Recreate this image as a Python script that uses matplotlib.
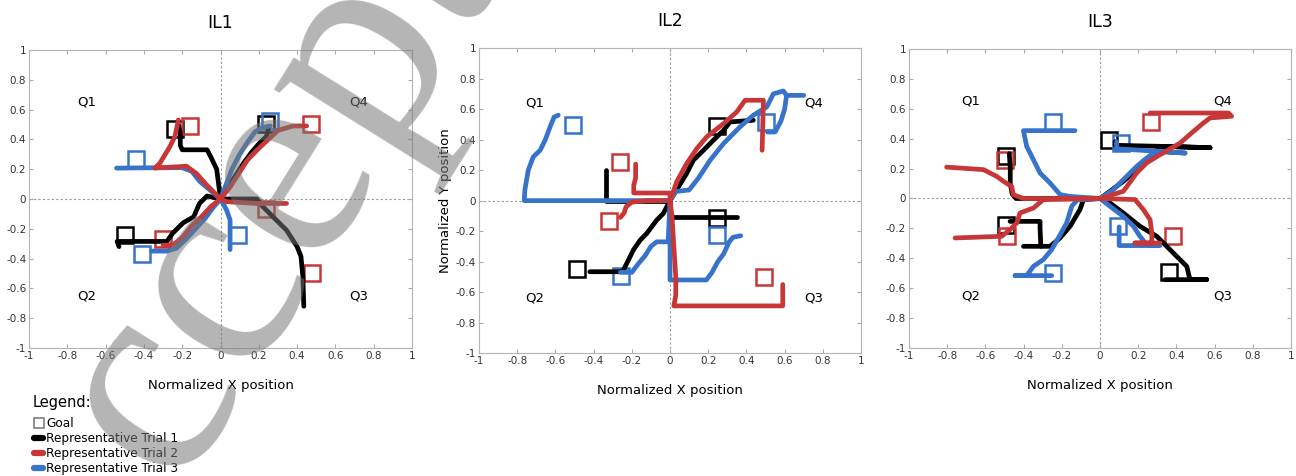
import numpy as np
import matplotlib.pyplot as plt
from matplotlib.lines import Line2D

BLACK = '#000000'
RED = '#c83737'
BLUE = '#3673c9'

titles = ['IL1', 'IL2', 'IL3']
ticks = np.round(np.arange(-1, 1.01, 0.2), 1) + 0.0  # +0.0 turns -0 into 0
tick_labels = ['%g' % t for t in ticks]

# ---- IL1 ----
il1_black_paths = [
    [(0, 0), (-0.01, 0.1), (-0.02, 0.2), (-0.05, 0.28), (-0.07, 0.33), (-0.14, 0.33),
     (-0.2, 0.33), (-0.21, 0.36), (-0.21, 0.44), (-0.22, 0.5)],
    [(0, 0), (0.04, 0.08), (0.08, 0.16), (0.12, 0.24), (0.16, 0.31), (0.2, 0.37),
     (0.24, 0.42), (0.25, 0.47)],
    [(0, 0), (0.1, 0.0), (0.19, 0.0), (0.22, -0.05), (0.29, -0.14), (0.345, -0.21),
     (0.4, -0.32), (0.42, -0.385), (0.43, -0.52), (0.435, -0.72)],
    [(0, 0), (-0.07, 0.02), (-0.11, -0.03), (-0.14, -0.12), (-0.195, -0.16), (-0.25, -0.23),
     (-0.28, -0.285), (-0.54, -0.285), (-0.53, -0.32)],
]
il1_black_goals = [(-0.24, 0.47), (0.24, 0.50), (-0.50, -0.24)]
il1_red_paths = [
    [(0, 0), (-0.073, 0.095), (-0.125, 0.17), (-0.178, 0.22), (-0.343, 0.207), (-0.317, 0.24),
     (-0.265, 0.35), (-0.238, 0.42), (-0.22, 0.53)],
    [(0, 0), (0.05, 0.08), (0.1, 0.18), (0.14, 0.26), (0.2, 0.34), (0.25, 0.4), (0.3, 0.46),
     (0.38, 0.49), (0.45, 0.49)],
    [(0, 0), (0.03, -0.018), (0.19, -0.03), (0.345, -0.03)],
    [(0, 0), (-0.05, -0.05), (-0.1, -0.12), (-0.15, -0.18), (-0.2, -0.26), (-0.25, -0.31),
     (-0.3, -0.31)],
]
il1_red_goals = [(-0.16, 0.49), (0.475, 0.50), (-0.30, -0.27), (0.24, -0.07), (0.48, -0.50)]
il1_blue_paths = [
    [(0, 0), (-0.108, 0.117), (-0.15, 0.185), (-0.2, 0.21), (-0.33, 0.21), (-0.543, 0.207)],
    [(0, 0), (0.03, 0.1), (0.06, 0.2), (0.1, 0.3), (0.14, 0.38), (0.18, 0.45), (0.22, 0.48),
     (0.26, 0.49)],
    [(0, 0), (0.03, -0.07), (0.05, -0.14), (0.05, -0.34)],
    [(0, 0), (-0.04, -0.06), (-0.08, -0.13), (-0.13, -0.2), (-0.18, -0.27), (-0.23, -0.33),
     (-0.28, -0.35), (-0.36, -0.35)],
]
il1_blue_goals = [(-0.44, 0.27), (0.26, 0.52), (-0.41, -0.37), (0.09, -0.245)]

# ---- IL2 ----
il2_black_paths = [
    [(0, 0), (-0.335, 0), (-0.335, 0.2)],
    [(0, 0), (-0.035, -0.084), (-0.07, -0.128), (-0.122, -0.215), (-0.157, -0.26),
     (-0.192, -0.324), (-0.218, -0.39), (-0.244, -0.455), (-0.26, -0.466), (-0.42, -0.466)],
    [(0, 0), (0, -0.11), (0.35, -0.11)],
    [(0, 0), (0.044, 0.09), (0.087, 0.178), (0.122, 0.265), (0.175, 0.33), (0.227, 0.396),
     (0.28, 0.46), (0.314, 0.516), (0.436, 0.527)],
]
il2_black_goals = [(-0.487, -0.446), (0.244, 0.49), (0.244, -0.117)]
il2_red_paths = [
    [(0, 0), (0, 0.05), (-0.1, 0.05), (-0.19, 0.05), (-0.19, 0.1), (-0.18, 0.15), (-0.18, 0.24)],
    [(0, 0), (-0.12, 0), (-0.2, -0.01), (-0.23, -0.04), (-0.24, -0.08), (-0.26, -0.11)],
    [(0, 0), (0.01, -0.1), (0.02, -0.3), (0.03, -0.5), (0.03, -0.62), (0.02, -0.69),
     (0.3, -0.69), (0.59, -0.69), (0.59, -0.55)],
    [(0, 0), (0.035, 0.124), (0.087, 0.243), (0.14, 0.341), (0.192, 0.418), (0.28, 0.505),
     (0.349, 0.581), (0.393, 0.658), (0.489, 0.658), (0.482, 0.33)],
]
il2_red_goals = [(-0.264, 0.25), (-0.318, -0.134), (0.494, -0.503)]
il2_blue_paths = [
    [(0, 0), (-0.763, 0), (-0.76, 0.07), (-0.742, 0.2), (-0.716, 0.287), (-0.68, 0.33),
     (-0.654, 0.396), (-0.628, 0.483), (-0.607, 0.548), (-0.585, 0.56)],
    [(0, 0), (-0.01, -0.27), (-0.07, -0.27), (-0.1, -0.3), (-0.13, -0.36), (-0.17, -0.42),
     (-0.2, -0.47), (-0.26, -0.47)],
    [(0, 0), (0, -0.52), (0.19, -0.52), (0.22, -0.47), (0.25, -0.4), (0.28, -0.35),
     (0.31, -0.27), (0.33, -0.24), (0.37, -0.23)],
    [(0, 0), (0.03, 0.06), (0.1, 0.07), (0.15, 0.15), (0.21, 0.265), (0.28, 0.374),
     (0.366, 0.483), (0.436, 0.56), (0.506, 0.614), (0.541, 0.70), (0.593, 0.719),
     (0.61, 0.69), (0.7, 0.69)],
    [(0.61, 0.69), (0.6, 0.6), (0.58, 0.52), (0.55, 0.45), (0.51, 0.45)],
]
il2_blue_goals = [(-0.51, 0.498), (-0.255, -0.494), (0.5, 0.516), (0.244, -0.228)]

# ---- IL3 ----
il3_black_paths = [
    [(0, 0), (-0.44, 0), (-0.46, 0.03), (-0.47, 0.1), (-0.47, 0.2), (-0.475, 0.3)],
    [(0, 0), (-0.087, -0.008), (-0.105, -0.074), (-0.157, -0.186), (-0.209, -0.264),
     (-0.262, -0.32), (-0.401, -0.32)],
    [(-0.31, -0.32), (-0.314, -0.2), (-0.314, -0.153), (-0.471, -0.153)],
    [(0, 0), (0.052, 0.048), (0.122, 0.115), (0.192, 0.193), (0.244, 0.26), (0.297, 0.316),
     (0.314, 0.349), (0.576, 0.34), (0.314, 0.349), (0.079, 0.356), (0.079, 0.38)],
    [(0, 0), (0.052, -0.03), (0.122, -0.097), (0.209, -0.186), (0.297, -0.253), (0.349, -0.32),
     (0.401, -0.387), (0.454, -0.454), (0.471, -0.543), (0.558, -0.543), (0.34, -0.543)],
]
il3_black_goals = [(-0.492, 0.282), (0.049, 0.389), (-0.492, -0.177), (0.363, -0.494)]
il3_red_paths = [
    [(0, 0), (-0.401, 0), (-0.454, 0.026), (-0.462, 0.08), (-0.506, 0.115), (-0.541, 0.148),
     (-0.61, 0.193), (-0.803, 0.21)],
    [(0, 0), (-0.297, -0.008), (-0.349, -0.064), (-0.419, -0.097), (-0.436, -0.164),
     (-0.471, -0.208), (-0.515, -0.253), (-0.759, -0.264)],
    [(0, 0), (0.122, 0.048), (0.192, 0.171), (0.244, 0.238), (0.314, 0.293), (0.419, 0.371),
     (0.489, 0.449), (0.541, 0.505), (0.576, 0.539), (0.689, 0.55), (0.672, 0.572),
     (0.262, 0.572)],
    [(0, 0), (0.183, -0.007), (0.227, -0.075), (0.262, -0.142), (0.271, -0.231),
     (0.271, -0.298), (0.183, -0.298), (0.314, -0.298)],
]
il3_red_goals = [(-0.497, 0.26), (0.265, 0.51), (-0.489, -0.249), (0.384, -0.249)]
il3_blue_paths = [
    [(0, 0), (-0.157, 0.014), (-0.209, 0.026), (-0.262, 0.104), (-0.314, 0.17), (-0.349, 0.26),
     (-0.384, 0.349), (-0.401, 0.454), (-0.131, 0.454)],
    [(0, 0), (-0.12, -0.01), (-0.148, -0.052), (-0.175, -0.164), (-0.209, -0.242),
     (-0.253, -0.342), (-0.297, -0.409), (-0.349, -0.454), (-0.384, -0.516), (-0.445, -0.516),
     (-0.253, -0.516)],
    [(0, 0), (0.07, 0.059), (0.122, 0.126), (0.192, 0.215), (0.244, 0.271), (0.297, 0.316),
     (0.445, 0.304), (0.297, 0.316), (0.087, 0.333), (0.087, 0.38)],
    [(0, 0), (0.052, -0.052), (0.122, -0.12), (0.175, -0.186), (0.209, -0.253),
     (0.244, -0.309), (0.314, -0.315), (0.1, -0.315), (0.1, -0.19)],
]
il3_blue_goals = [(-0.244, 0.51), (0.108, 0.371), (-0.244, -0.498), (0.096, -0.186)]

panels = [
    [(BLACK, il1_black_paths, il1_black_goals), (BLUE, il1_blue_paths, il1_blue_goals),
     (RED, il1_red_paths, il1_red_goals)],
    [(BLACK, il2_black_paths, il2_black_goals), (BLUE, il2_blue_paths, il2_blue_goals),
     (RED, il2_red_paths, il2_red_goals)],
    [(BLACK, il3_black_paths, il3_black_goals), (BLUE, il3_blue_paths, il3_blue_goals),
     (RED, il3_red_paths, il3_red_goals)],
]

# where the quadrant names sit in each panel (left x, right x, |y|)
q_spots = [(-0.70, 0.72, 0.65), (-0.71, 0.75, 0.64), (-0.675, 0.64, 0.65)]

fig = plt.figure(figsize=(12.96, 4.76), dpi=100)
boxes = [(0.0224, 0.269, 0.2955, 0.626),
         (0.3696, 0.258, 0.2948, 0.641),
         (0.7014, 0.269, 0.2948, 0.628)]

for i, box in enumerate(boxes):
    ax = fig.add_axes(box)
    ax.set_xlim(-1, 1)
    ax.set_ylim(-1, 1)
    ax.axhline(0, color='#999999', lw=0.8, ls=(0, (2, 2)), zorder=1)
    ax.axvline(0, color='#999999', lw=0.8, ls=(0, (2, 2)), zorder=1)

    for color, paths, goals in panels[i]:
        gx = [g[0] for g in goals]
        gy = [g[1] for g in goals]
        ax.plot(gx, gy, ls='none', marker='s', ms=12, mfc='none', mec=color, mew=1.8, zorder=2)
        for p in paths:
            px = [pt[0] for pt in p]
            py = [pt[1] for pt in p]
            ax.plot(px, py, color=color, lw=3.4, solid_capstyle='round',
                    solid_joinstyle='round', zorder=3)

    xl, xr, qy = q_spots[i]
    ax.text(xl, qy, 'Q1', ha='center', va='center', fontsize=9.5)
    ax.text(xr, qy, 'Q4', ha='center', va='center', fontsize=9.5)
    ax.text(xl, -qy, 'Q2', ha='center', va='center', fontsize=9.5)
    ax.text(xr, -qy, 'Q3', ha='center', va='center', fontsize=9.5)

    ax.set_xticks(ticks)
    ax.set_xticklabels(tick_labels)
    ax.set_yticks(ticks)
    ax.set_yticklabels(tick_labels)
    ax.tick_params(direction='in', length=3, color='#aaaaaa', labelsize=7.5,
                   labelcolor='#333333', top=True, right=True, pad=2)
    for s in ax.spines.values():
        s.set_color('#b5b5b5')
    ax.set_title(titles[i], fontsize=12.5, pad=16)
    ax.set_xlabel('Normalized X position', fontsize=9.5, labelpad=13)
    if i == 1:
        ax.set_ylabel('Normalized Y position', fontsize=9.5, labelpad=3)

handles = [
    Line2D([], [], ls='none', marker='s', ms=7, mfc='none', mec='#888888', mew=1.3),
    Line2D([], [], color=BLACK, lw=4.5, solid_capstyle='round'),
    Line2D([], [], color=RED, lw=4.5, solid_capstyle='round'),
    Line2D([], [], color=BLUE, lw=4.5, solid_capstyle='round'),
]
labels = ['Goal', 'Representative Trial 1', 'Representative Trial 2', 'Representative Trial 3']
fig.text(0.0255, 0.1534, 'Legend:', fontsize=10.5, va='center', ha='left')
fig.legend(handles, labels, loc='upper left', bbox_to_anchor=(0.0265, 0.123),
           frameon=False, fontsize=8.7, handlelength=0.7, handletextpad=0.3,
           labelspacing=0.15, borderpad=0, borderaxespad=0)

# journal "Accepted" watermark
fig.text(0.0514, -0.4085, 'Accepted', rotation=58, rotation_mode='anchor', ha='left',
         va='baseline', fontsize=210, family='Liberation Serif', color='#777777',
         alpha=0.55, zorder=10)

fig.savefig('out.png', dpi=100)
